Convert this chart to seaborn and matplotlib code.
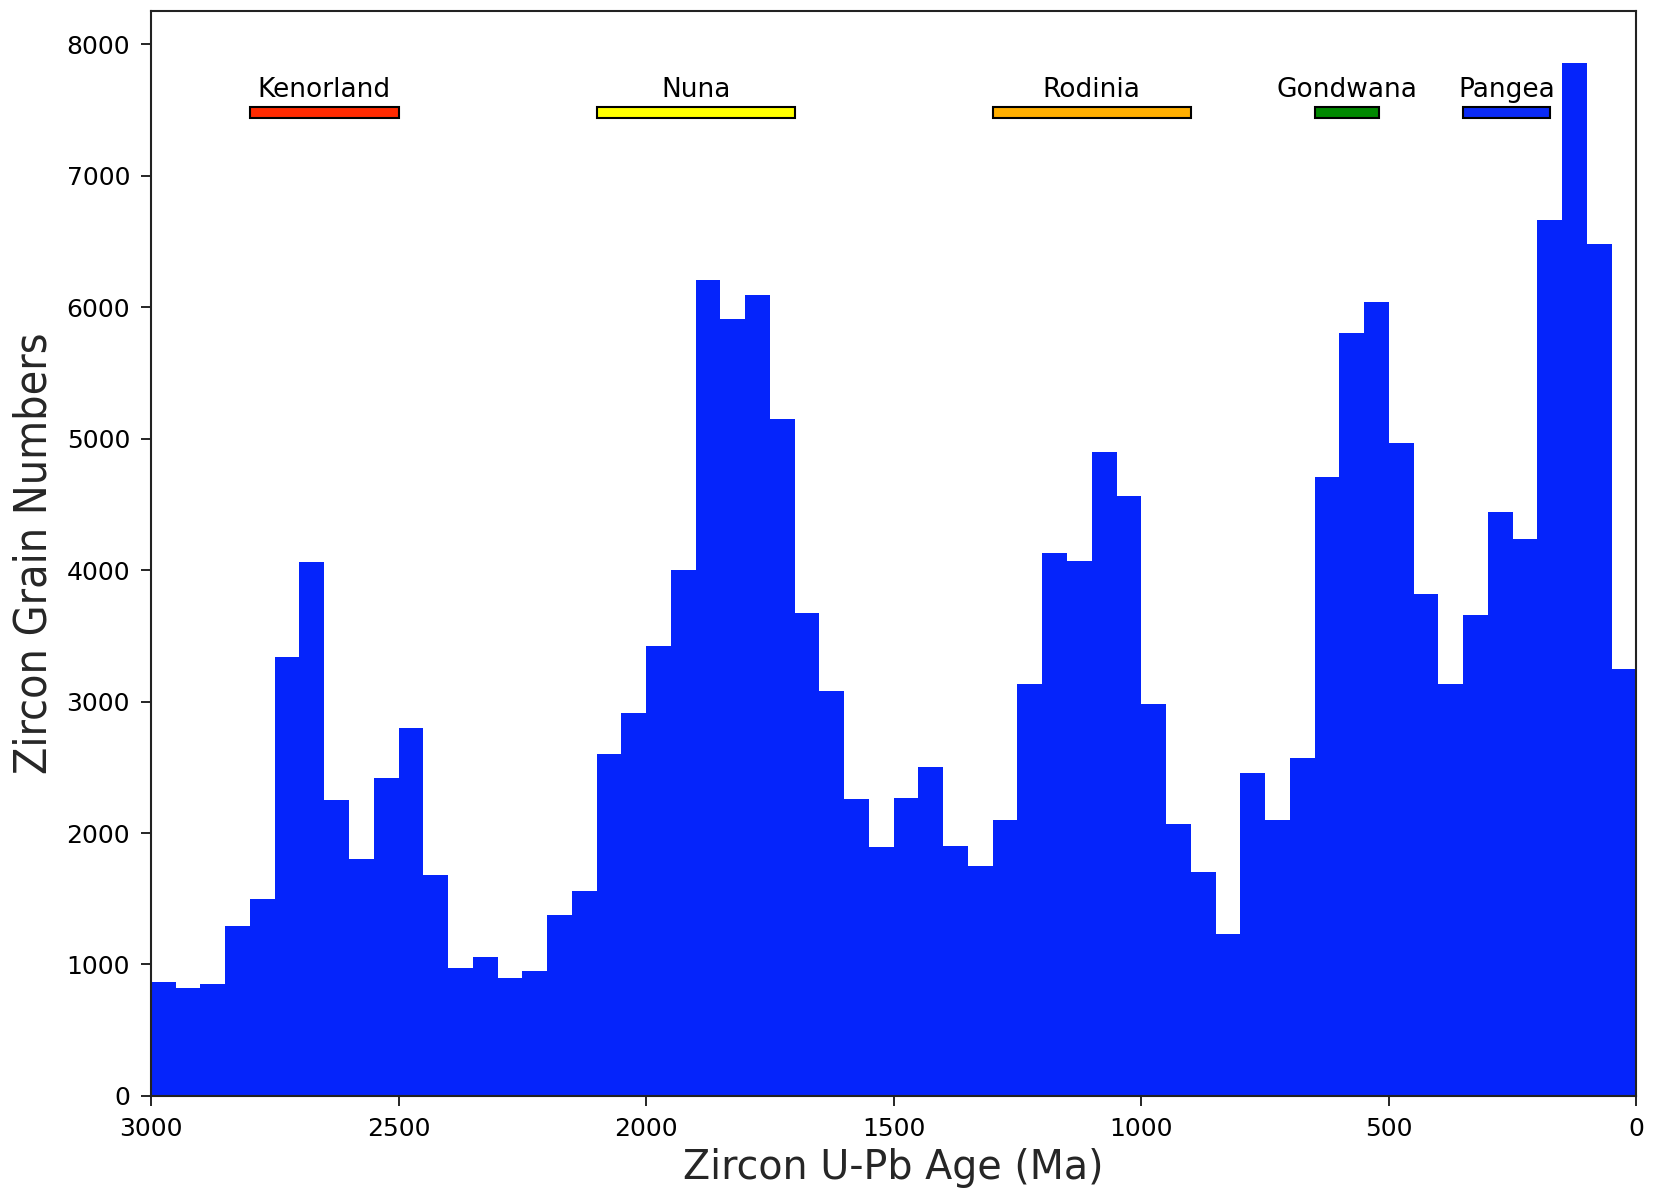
import numpy as np
import pandas as pd
import matplotlib
matplotlib.use("Agg")
import matplotlib.pyplot as plt
import seaborn as sns

# Bin edges (Ma), 50 Ma bins from 3000 to 0
bin_edges = list(range(3000, -1, -50))
# Counts per bin, ordered from 3000-2950 down to 50-0
counts = [870, 820, 850, 1290, 1500, 3340, 4060, 2250, 1800, 2420,
          2800, 1680, 970, 1060, 900, 950, 1380, 1560, 2600, 2910,
          3420, 4000, 6210, 5910, 6090, 5150, 3670, 3080, 2260, 1890,
          2270, 2500, 1900, 1750, 2100, 3130, 4130, 4070, 4900, 4560,
          2980, 2070, 1700, 1230, 2460, 2100, 2570, 4710, 5800, 6040,
          4970, 3820, 3130, 3660, 4440, 4240, 6660, 7860, 6480, 3250]

# Supercontinents
sc_names = ["Kenorland", "Nuna", "Rodinia", "Gondwana", "Pangea"]
sc_start = [2800, 2100, 1300, 650, 350]
sc_end = [2500, 1700, 900, 520, 175]
sc_colors = ["#ff2a00", "#ffff00", "#ffae00", "#008800", "#0a2af5"]

sns.set_style("ticks")
plt.rcParams['font.family'] = ['DejaVu Sans']

fig = plt.figure(figsize=(16.53, 11.91), dpi=100)
ax = fig.add_axes([0.0913, 0.0798, 0.8987, 0.911])

centers = [(bin_edges[i] + bin_edges[i + 1]) / 2 for i in range(len(counts))]
df = pd.DataFrame({"age": centers, "n": counts})
edges_sorted = sorted(bin_edges)
sns.histplot(data=df, x="age", weights="n", bins=edges_sorted, ax=ax,
             color="#0524fb", alpha=1.0, linewidth=0, edgecolor="none")

# supercontinent bars
bar_y = 7480
for name, s, e, c in zip(sc_names, sc_start, sc_end, sc_colors):
    ax.barh(bar_y, width=s - e, left=e, height=85, color=c,
            edgecolor="black", linewidth=1.5)
    ax.text((s + e) / 2, 7550, name, ha="center", va="bottom", fontsize=19,
            color="black")

ax.set_xlim(3000, 0)
ax.set_ylim(0, 8253)
ax.set_xticks([3000, 2500, 2000, 1500, 1000, 500, 0])
ax.set_yticks(range(0, 8001, 1000))
ax.tick_params(axis="both", labelsize=18, length=7, width=1.2, pad=8,
               colors="black")
ax.set_xlabel("Zircon U-Pb Age (Ma)", fontsize=28.5, labelpad=5)
ax.set_ylabel("Zircon Grain Numbers", fontsize=32, labelpad=8,
              family=["DejaVu Sans"], fontstretch="condensed")
for sp in ax.spines.values():
    sp.set_linewidth(1.5)
    sp.set_color("#222222")

fig.savefig("out.png", dpi=100)
